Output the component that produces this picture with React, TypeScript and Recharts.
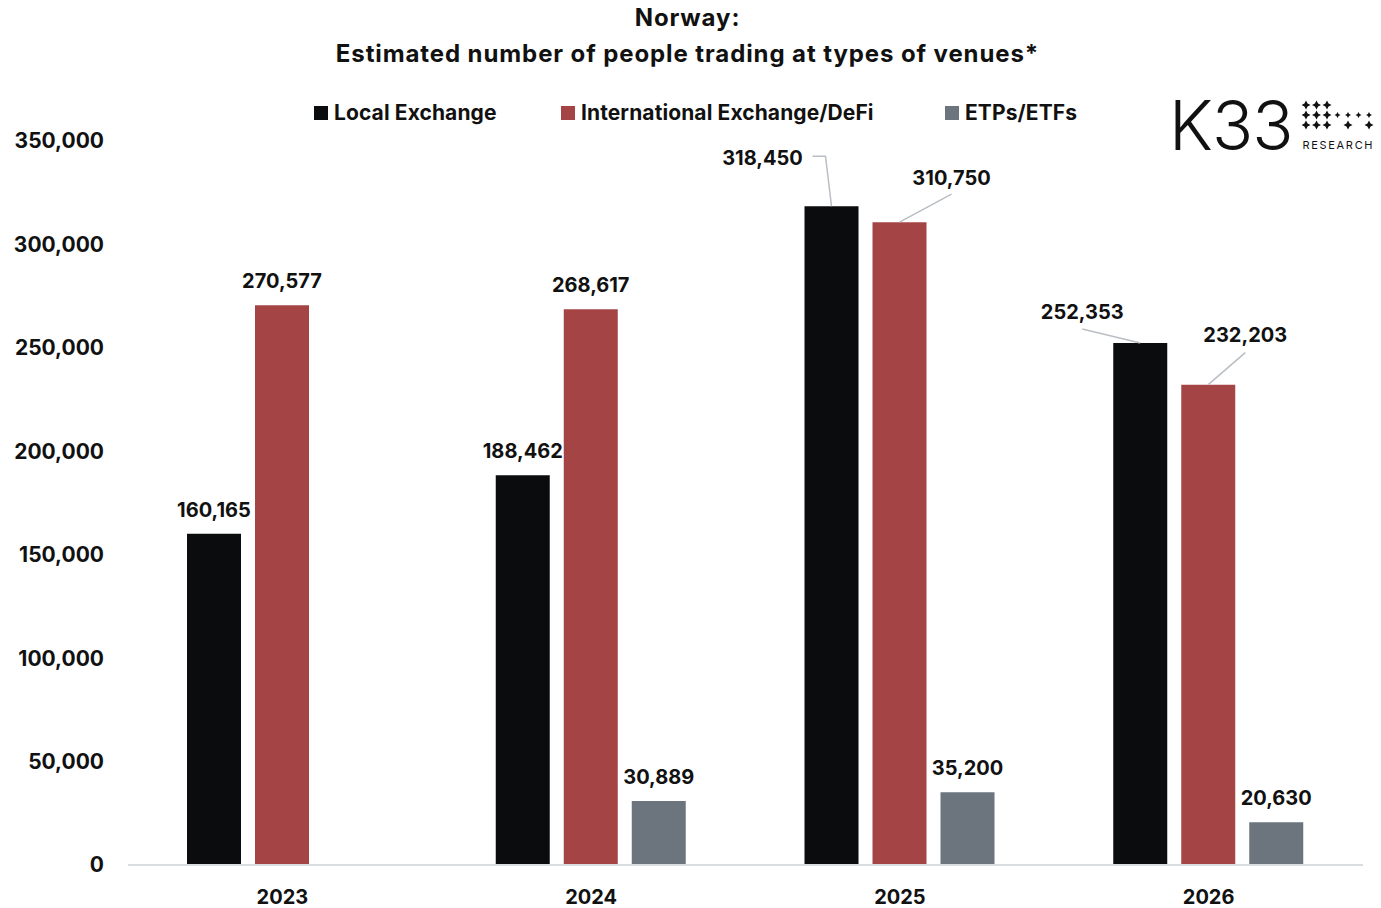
import { BarChart, Bar, XAxis, YAxis, LabelList } from "recharts";

const years = ["2023", "2024", "2025", "2026"];
const localExchange = [160165, 188462, 318450, 252353];
const internationalDefi = [270577, 268617, 310750, 232203];
const etps = [null, 30889, 35200, 20630];
const yTicks = [0, 50000, 100000, 150000, 200000, 250000, 300000, 350000];

const SERIES = [
  { key: "local", name: "Local Exchange", color: "#0b0c0e" },
  { key: "intl", name: "International Exchange/DeFi", color: "#a54444" },
  { key: "etp", name: "ETPs/ETFs", color: "#6c747e" },
];

// legend item x positions, as laid out in the original
const LEGEND_LEFT = [314, 561, 945];

// labels that sit off to the side with a leader line back to the bar top
const LABEL_MOVES: Record<string, { dx: number; dy: number; line: number[][] }> = {
  "local-2025": { dx: -69, dy: -48, line: [[-19, -50], [-6, -50], [0, 0]] },
  "intl-2025": { dx: 52, dy: -44, line: [[52, -28], [0, 0]] },
  "local-2026": { dx: -58, dy: -31, line: [[-58, -14], [0, 0]] },
  "intl-2026": { dx: 37, dy: -50, line: [[37, -32], [0, 0]] },
};

const FONT = "Inter, 'Noto Sans', sans-serif";
const fmt = (v: number) => v.toLocaleString("en-US");

const data = years.map((year, i) => ({
  year,
  local: localExchange[i],
  intl: internationalDefi[i],
  etp: etps[i],
}));

function makeLabel(seriesKey: string) {
  return (props: any) => {
    const { x, y, width, value, index } = props;
    if (value == null) return null;
    const cx = Number(x) + Number(width) / 2;
    const top = Number(y);
    const move = LABEL_MOVES[`${seriesKey}-${years[index]}`];
    const dx = move ? move.dx : 0;
    const dy = move ? move.dy : -24;
    return (
      <g>
        {move && (
          <polyline
            points={move.line.map(([px, py]) => `${cx + px},${top + py}`).join(" ")}
            fill="none"
            stroke="#b9bec4"
            strokeWidth={1.5}
          />
        )}
        <text
          x={cx + dx}
          y={top + dy}
          textAnchor="middle"
          dominantBaseline="central"
          fontSize={20}
          fontWeight={700}
          fill="#111"
          fontFamily={FONT}
        >
          {fmt(value)}
        </text>
      </g>
    );
  };
}

function Logo() {
  // K33 research mark, approximated
  const stars: number[][] = [];
  [0, 1, 2].forEach((c) => [0, 1, 2].forEach((r) => stars.push([c, r])));
  [3, 4, 5, 6].forEach((c) => stars.push([c, 1]));
  stars.push([4, 2], [6, 2]);
  return (
    <div style={{ position: "absolute", left: 1169, top: 85, display: "flex", alignItems: "flex-start" }}>
      <span style={{ fontFamily: FONT, fontWeight: 300, fontSize: 68, lineHeight: "80px", color: "#111", letterSpacing: -1 }}>
        K33
      </span>
      <div style={{ marginLeft: 10, marginTop: 15 }}>
        <svg width={72} height={32}>
          {stars.map(([c, r], i) => {
            const sx = 4 + c * 10.5;
            const sy = 5 + r * 10;
            const s = r === 1 && c > 2 ? 3 : 4.5;
            return (
              <path
                key={i}
                d={`M${sx} ${sy - s} L${sx + s * 0.35} ${sy - s * 0.35} L${sx + s} ${sy} L${sx + s * 0.35} ${sy + s * 0.35} L${sx} ${sy + s} L${sx - s * 0.35} ${sy + s * 0.35} L${sx - s} ${sy} L${sx - s * 0.35} ${sy - s * 0.35} Z`}
                fill="#111"
              />
            );
          })}
        </svg>
        <div style={{ fontFamily: FONT, fontSize: 11, letterSpacing: 1.7, color: "#111", marginTop: 2 }}>RESEARCH</div>
      </div>
    </div>
  );
}

export default function App() {
  return (
    <div style={{ position: "absolute", left: 0, top: 0, width: 1381, height: 908, background: "#fff", fontFamily: FONT }}>
      <div
        style={{
          position: "absolute",
          top: 0,
          left: 0,
          width: 1375,
          textAlign: "center",
          fontSize: 24,
          fontWeight: 700,
          letterSpacing: 0.9,
          lineHeight: "36px",
          color: "#111",
        }}
      >
        <div>Norway:</div>
        <div>Estimated number of people trading at types of venues*</div>
      </div>
      {SERIES.map((s, i) => (
        <div
          key={s.key}
          style={{
            position: "absolute",
            top: 100,
            left: LEGEND_LEFT[i],
            display: "flex",
            alignItems: "center",
            fontSize: 21,
            fontWeight: 700,
            letterSpacing: 0.1,
            color: "#111",
            whiteSpace: "nowrap",
          }}
        >
          <span style={{ width: 14, height: 14, background: s.color, marginRight: 6, display: "inline-block" }} />
          <span>{s.name}</span>
        </div>
      ))}
      <Logo />
      <BarChart
        width={1381}
        height={908}
        data={data}
        margin={{ top: 141, right: 18, bottom: 0, left: 0 }}
        barSize={54}
        barGap={14}
        style={{ position: "absolute", left: 0, top: 0 }}
      >
        <XAxis
          dataKey="year"
          height={43}
          axisLine={{ stroke: "#dadde0", strokeWidth: 2 }}
          tickLine={false}
          tickMargin={19}
          tick={{ fill: "#111", fontSize: 20, fontWeight: 700, fontFamily: FONT }}
        />
        <YAxis
          width={128}
          domain={[0, 350000]}
          ticks={yTicks}
          axisLine={false}
          tickLine={false}
          tickMargin={18}
          tickFormatter={fmt}
          tick={{ fill: "#111", fontSize: 21, fontWeight: 700, fontFamily: FONT }}
        />
        {SERIES.map((s) => (
          <Bar key={s.key} dataKey={s.key} name={s.name} fill={s.color} isAnimationActive={false}>
            <LabelList dataKey={s.key} content={makeLabel(s.key)} />
          </Bar>
        ))}
      </BarChart>
    </div>
  );
}
